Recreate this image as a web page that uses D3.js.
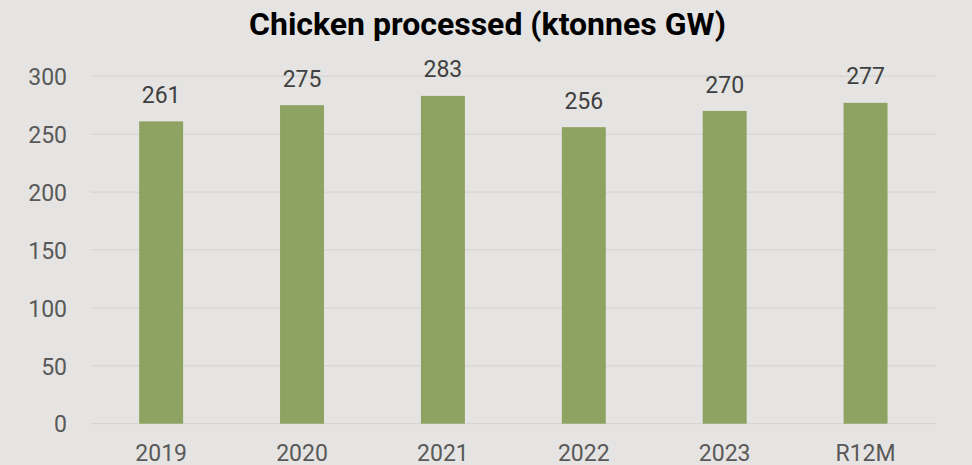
<!DOCTYPE html>
<html><head><meta charset="utf-8">
<script src="https://cdn.jsdelivr.net/npm/d3@7"></script>
<style>html,body{margin:0;padding:0;background:#e5e4e2;}svg{display:block;}</style>
</head><body><svg id="c" width="972" height="465"></svg>
<script>
const categories = ["2019","2020","2021","2022","2023","R12M"];
const values = [261,275,283,256,270,277];
const yTicks = [0,50,100,150,200,250,300];
const title = "Chicken processed (ktonnes GW)";

const W=972,H=465;
const svg=d3.select("#c");
svg.append("rect").attr("width",W).attr("height",H).attr("fill","#e5e4e2");
const x=d3.scaleBand().domain(categories).range([90.7,936]).paddingInner(0.688).paddingOuter(0.344);
const y=d3.scaleLinear().domain([0,300]).range([423.7,76.2]);

const g=svg.append("g");
g.selectAll("line.grid").data(yTicks).join("line").attr("class","grid")
 .attr("x1",90.7).attr("x2",936).attr("y1",d=>y(d)).attr("y2",d=>y(d))
 .attr("stroke","#d6d5d3").attr("stroke-width",1.3);

const yAxis=svg.append("g").attr("transform","translate(67,0)")
 .call(d3.axisLeft(y).tickValues(yTicks).tickSize(0).tickPadding(0));
yAxis.select(".domain").remove();
yAxis.selectAll("text").attr("fill","#595959").attr("font-family","Roboto").attr("font-size",23).attr("dy","0.36em");

g.selectAll("rect.bar").data(values).join("rect").attr("class","bar")
 .attr("x",(d,i)=>x(categories[i])).attr("width",x.bandwidth())
 .attr("y",d=>y(d)).attr("height",d=>y(0)-y(d)).attr("fill","#8ea261");

g.selectAll("text.val").data(values).join("text").attr("class","val")
 .attr("x",(d,i)=>x(categories[i])+x.bandwidth()/2).attr("y",d=>y(d)-18.4)
 .attr("text-anchor","middle").attr("fill","#404040").attr("font-family","Roboto").attr("font-size",23)
 .text(d=>d);

const xAxis=svg.append("g").attr("transform","translate(0,"+y(0)+")")
 .call(d3.axisBottom(x).tickSize(0).tickPadding(0));
xAxis.select(".domain").remove();
xAxis.selectAll("text").attr("fill","#595959").attr("font-family","Roboto").attr("font-size",23).attr("dy",null).attr("y",37.7);

svg.append("text").attr("x",487.5).attr("y",35).attr("text-anchor","middle")
 .attr("font-family","Roboto").attr("font-weight","bold").attr("font-size",32).attr("fill","#000")
 .text(title);
</script></body></html>
